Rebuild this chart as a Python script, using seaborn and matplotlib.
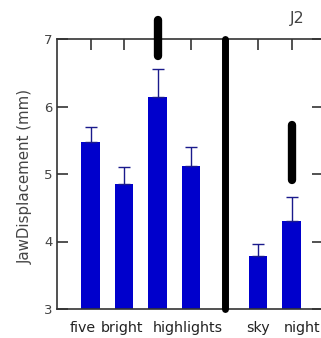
import matplotlib
matplotlib.use("Agg")
import matplotlib.pyplot as plt
import seaborn as sns
import pandas as pd

# ---- data ----
syllables = ["five", "bright", "high", "lights", "sky", "night"]
positions = [0, 1, 2, 3, 5, 6]
means = [5.48, 4.85, 6.14, 5.12, 3.79, 4.31]
err_up = [0.21, 0.25, 0.41, 0.28, 0.17, 0.35]
word_labels = ["five", "bright", "highlights", "sky", "night"]
word_label_pos = [-0.22, 0.94, 2.9, 5.0, 6.3]
separator_x = 4
separator_range = (3.0, 7.0)
marks = [(2, 6.75, 7.28), (6, 4.91, 5.73)]
title = "J2"
ylabel = "JawDisplacement (mm)"

sns.set_theme(style="white")
plt.rcParams['font.family'] = ['DejaVu Sans']

df = pd.DataFrame({"pos": positions, "val": means, "syl": syllables})

fig = plt.figure(figsize=(3.21, 3.38), dpi=100)
ax = fig.add_axes([57/321, 1 - 309/338, (322.5 - 57)/321, (309 - 39)/338])

sns.barplot(data=df, x="pos", y="val", native_scale=True, color="#0000cc",
            saturation=1, width=0.55, errorbar=None, ax=ax, zorder=2,
            linewidth=0, edgecolor="none")
ax.errorbar(positions, means, yerr=[[0]*len(err_up), err_up], fmt="none",
            ecolor="#1a1a8c", elinewidth=1.0, capsize=4, capthick=1.0, zorder=3)

ax.plot([separator_x, separator_x], separator_range, color="black", lw=5,
        solid_capstyle="round", zorder=4, clip_on=False)
for x, y0, y1 in marks:
    ax.plot([x, x], [y0, y1], color="black", lw=6, solid_capstyle="round",
            zorder=5, clip_on=False)

ax.set_xlim(-1, 6.92)
ax.set_ylim(3, 7)
ax.set_yticks([3, 4, 5, 6, 7])
ax.set_yticklabels(["3", "4", "5", "6", "7"], fontsize=9.5, color="#444444")
ax.set_xticks(word_label_pos)
ax.set_xticklabels(word_labels, fontsize=10.3, color="#222222")
for lab in ax.get_xticklabels():
    lab.set_verticalalignment("baseline")
ax.tick_params(axis="x", bottom=False, length=0, pad=16.5)
ax.tick_params(axis="y", left=True, right=True, direction="in", length=8,
               width=1.2, color="#333333", pad=3)
ax.set_xlabel("")
ax.set_ylabel(ylabel, fontsize=10.8, color="#444444")
ax.yaxis.set_label_coords(-0.09, 0.49)

sec = ax.secondary_xaxis("top")
sec.set_xticks(range(0, 7))
sec.set_xticklabels([])
sec.tick_params(direction="in", length=8, width=1.2, color="#333333")
sec.spines["top"].set_visible(False)

for s in ax.spines.values():
    s.set_color("#333333")
    s.set_linewidth(1.2)
    s.set_visible(True)

fig.text(297/321, 1 - 19/338, title, fontsize=11.5, color="#444444",
         ha="center", va="center")

fig.savefig("out.png", dpi=100)
